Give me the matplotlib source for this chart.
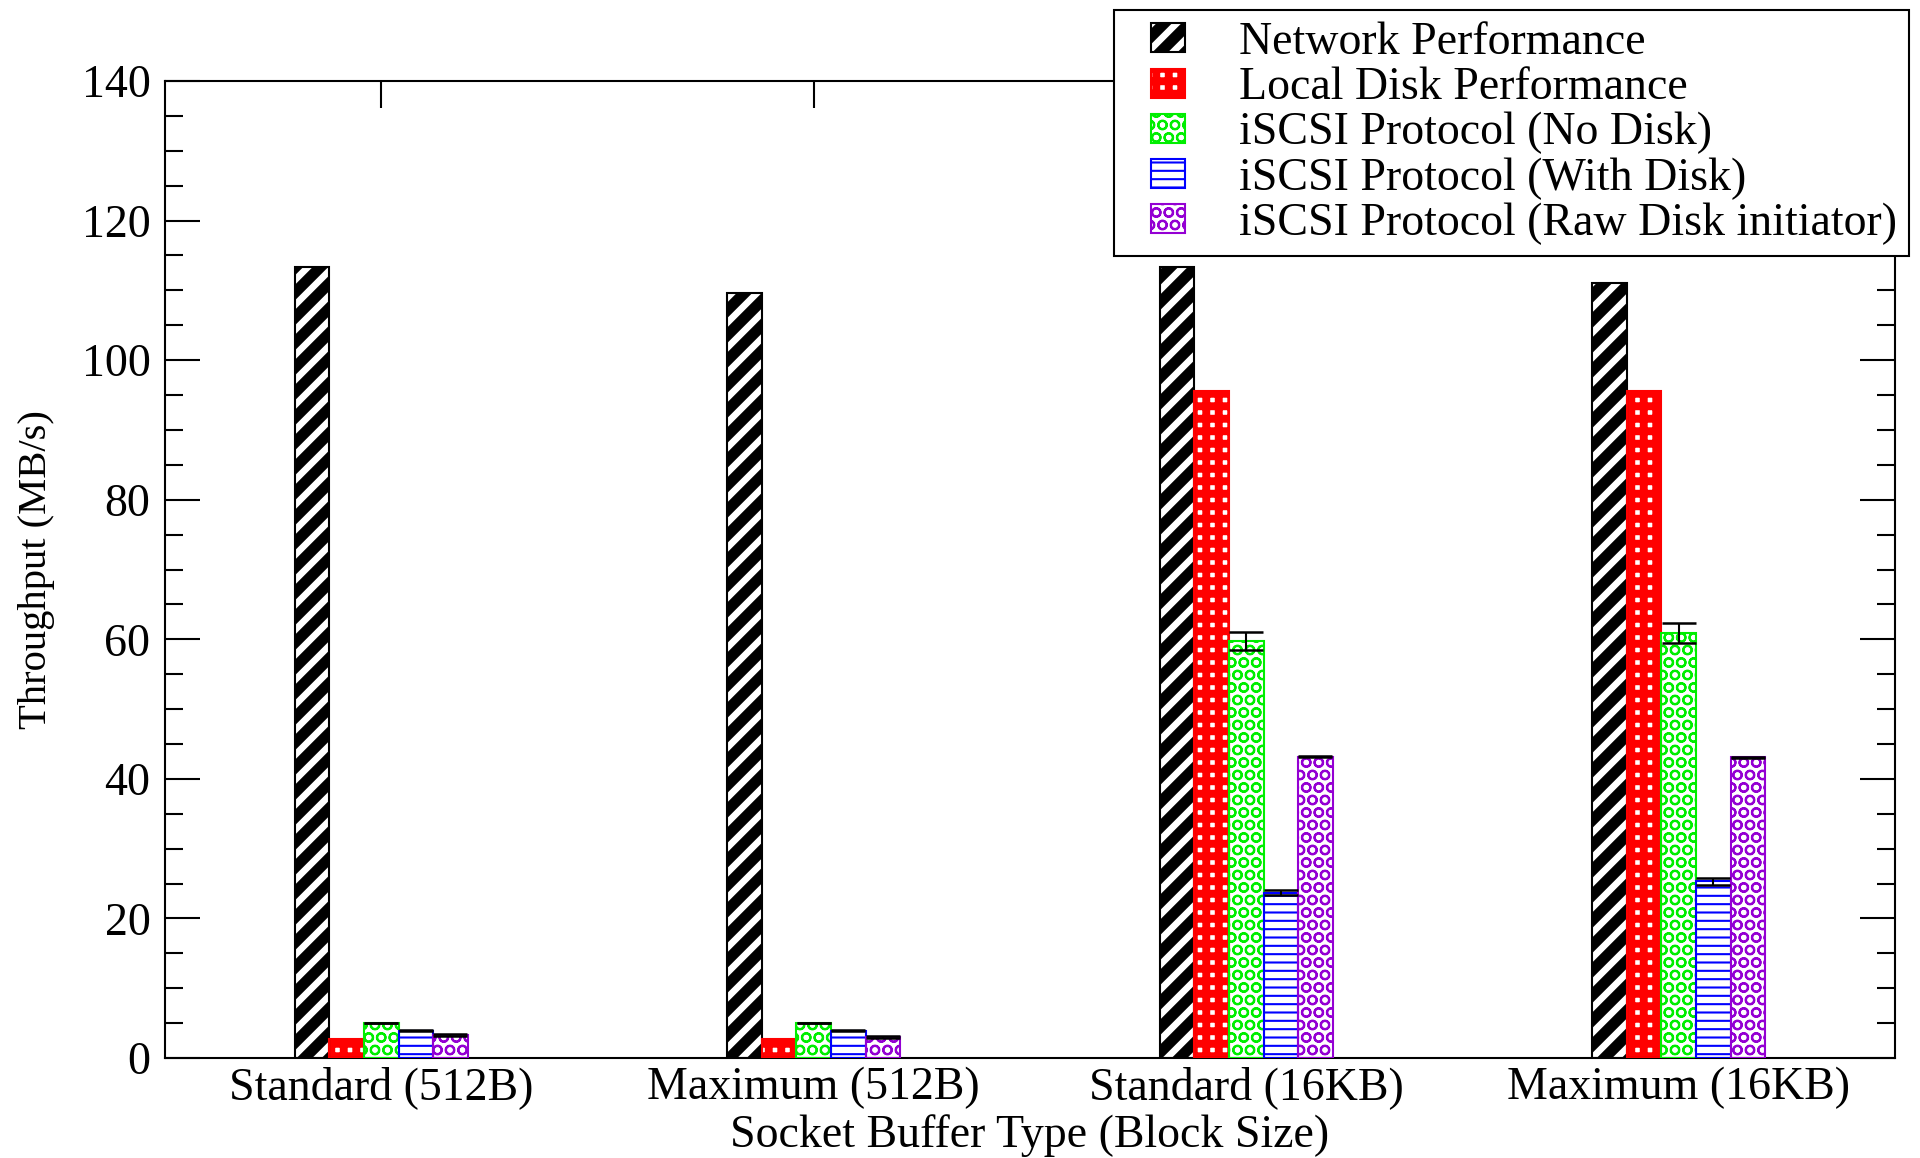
import numpy as np
import matplotlib
matplotlib.use("Agg")
import matplotlib.pyplot as plt
from matplotlib.patches import Patch
from matplotlib.legend_handler import HandlerTuple
from matplotlib.ticker import MultipleLocator

categories = ["Standard (512B)", "Maximum (512B)", "Standard (16KB)", "Maximum (16KB)"]
series_names = [
    "Network Performance",
    "Local Disk Performance",
    "iSCSI Protocol (No Disk)",
    "iSCSI Protocol (With Disk)",
    "iSCSI Protocol (Raw Disk initiator)",
]
network = [113.3, 109.6, 113.3, 111.0]
local_disk = [2.7, 2.7, 95.6, 95.6]
no_disk = [5.0, 5.0, 59.7, 60.9]
no_disk_err = [0.0, 0.0, 1.3, 1.4]
with_disk = [3.9, 3.9, 23.7, 25.3]
with_disk_err = [0.1, 0.1, 0.4, 0.5]
raw_disk = [3.3, 3.0, 43.2, 43.1]
raw_disk_err = [0.1, 0.1, 0.1, 0.1]

plt.rcParams["font.family"] = ["Liberation Serif", "DejaVu Serif"]

# face colour, hatch, hatch colour, outline colour, hatch line width
styles = [
    ("black", "//", "white", "black", 3.2),
    ("white", "++", "red", "red", 3.8),
    ("white", "OO", "#00ee00", "#00ee00", 1.0),
    ("white", "---", "blue", "blue", 1.0),
    ("white", "OO", "#9400d3", "#9400d3", 1.0),
]
values = [network, local_disk, no_disk, with_disk, raw_disk]
errors = [None, None, no_disk_err, with_disk_err, raw_disk_err]


def set_hatch_lw(patch, lw):
    if hasattr(patch, "set_hatch_linewidth"):
        patch.set_hatch_linewidth(lw)


fig = plt.figure(figsize=(12.8, 7.72), dpi=150)
ax = fig.add_axes([165 / 1920, 1 - 1058 / 1158, 1730 / 1920, 977 / 1158])

x = np.arange(1, len(categories) + 1)
width = 0.08
offsets = (np.arange(len(values)) - 2) * width

handles = []
for vals, errs, off, (fc, hatch, hc, ec, hlw) in zip(values, errors, offsets, styles):
    plt.rcParams["hatch.linewidth"] = hlw
    fill = ax.bar(x + off, vals, width, color=fc, hatch=hatch, edgecolor=hc,
                  linewidth=0, zorder=2)
    for p in fill:
        set_hatch_lw(p, hlw)
    ax.bar(x + off, vals, width, fill=False, edgecolor=ec, linewidth=1.0, zorder=3)
    if errs is not None:
        ax.errorbar(x + off, vals, yerr=errs, fmt="none", ecolor="black",
                    elinewidth=1.0, capsize=8, capthick=1.2, zorder=4)
    h1 = Patch(facecolor=fc, hatch=hatch, edgecolor=hc, linewidth=0)
    set_hatch_lw(h1, hlw)
    h2 = Patch(fill=False, edgecolor=ec, linewidth=1.0)
    handles.append((h1, h2))

ax.set_xlim(0.5, 4.5)
ax.set_ylim(0, 140)
ax.set_xticks(x)
ax.set_xticklabels(categories)
ax.yaxis.set_major_locator(MultipleLocator(20))
ax.yaxis.set_minor_locator(MultipleLocator(5))
ax.tick_params(axis="x", which="both", direction="in", top=True, bottom=True,
               length=13, width=1.0, labelsize=22, pad=4)
ax.tick_params(axis="y", which="major", direction="in", left=True, right=True,
               length=17, width=1.0, labelsize=22, pad=7)
ax.tick_params(axis="y", which="minor", direction="in", left=True, right=True,
               length=8.6, width=1.0)
for s in ax.spines.values():
    s.set_linewidth(1.0)

ax.set_xlabel("Socket Buffer Type (Block Size)", fontsize=22, va="center")
ax.xaxis.set_label_coords(0.5, (1058 - 1136) / 977)
ax.set_ylabel("Throughput (MB/s)", fontsize=19.5, va="center", ha="center")
ax.yaxis.set_label_coords((37 - 165) / 1730, 0.5)

leg = fig.legend(handles, series_names,
                 handler_map={tuple: HandlerTuple(ndivide=1, xpad=0.56)},
                 loc="upper left", bbox_to_anchor=(1114 / 1920, 1 - 10 / 1158),
                 bbox_transform=fig.transFigure, borderaxespad=0, fontsize=22,
                 frameon=True, fancybox=False, handlelength=1.3, handleheight=0.6,
                 handletextpad=1.18, labelspacing=0.06, borderpad=0.25)
leg.get_frame().set_edgecolor("black")
leg.get_frame().set_linewidth(1.0)
leg.get_frame().set_alpha(1)
# legend swatches are copies, so give them the hatch widths again
for art, st in zip(leg.legend_handles, styles):
    for a in (art if isinstance(art, (list, tuple)) else [art]):
        if isinstance(a, Patch) and a.get_hatch():
            set_hatch_lw(a, st[4])

fig.savefig("out.png", dpi=150)
